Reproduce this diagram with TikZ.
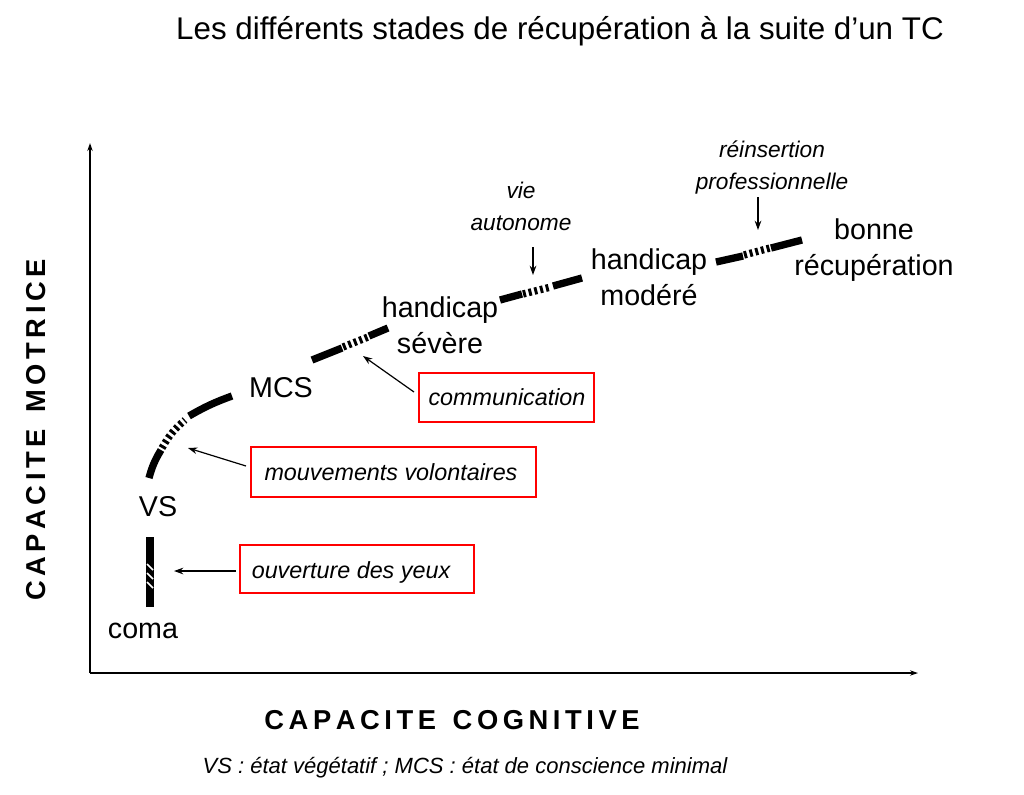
\documentclass[tikz,border=0pt]{standalone}
\usepackage{fontspec}
\setmainfont{Liberation Sans}
\usetikzlibrary{arrows.meta}
\begin{document}
\begin{tikzpicture}[x=0.75pt,y=-0.75pt,
  lbl/.style={font=\fontsize{21.5}{27}\selectfont,align=center,inner sep=0pt},
  sm/.style={font=\fontsize{17}{24}\selectfont\itshape,align=center,inner sep=0pt},
  btxt/.style={font=\fontsize{17.5}{20}\selectfont\itshape,inner sep=0pt},
  solid seg/.style={line width=5.5pt},
  tick seg/.style={line width=5.5pt,dash pattern=on 2.2pt off 2.2pt},
  ax/.style={line width=1pt,-{Stealth[length=6pt,width=4pt]}},
  arr/.style={line width=0.9pt,-{Stealth[length=7pt,width=5pt]}}]
\useasboundingbox (0,0) rectangle (1024,794);
\node[font=\fontsize{23.5}{26}\selectfont,inner sep=0pt] (title) at (560,31) {Les différents stades de récupération à la suite d’un TC};
% axes
\coordinate (o) at (90,673);
\coordinate (ytop) at (90,143);
\coordinate (xend) at (918,673);
\draw[ax] (o) -- (ytop);
\draw[ax] (o) -- (xend);
\node[rotate=90,font=\fontsize{20.5}{22}\selectfont\bfseries,inner sep=0pt] (ylab) at (36,430) {C\,A\,P\,A\,C\,I\,T\,E\,\ \,M\,O\,T\,R\,I\,C\,E};
\node[font=\fontsize{20.5}{22}\selectfont\bfseries,inner sep=0pt] (xlab) at (452,720) {C\,A\,P\,A\,C\,I\,T\,E\,\ \,C\,O\,G\,N\,I\,T\,I\,V\,E};
\node[font=\fontsize{16.5}{18}\selectfont\itshape,inner sep=0pt] (foot) at (465,768) {VS : état végétatif ; MCS : état de conscience minimal};
% stage labels
\node[lbl] (coma) at (143,631) {coma};
\node[lbl] (vs) at (158,507) {VS};
\node[lbl] (mcs) at (281,388) {MCS};
\node[lbl] (hs) at (440,325) {handicap\\sévère};
\node[lbl] (hm) at (649,277) {handicap\\modéré};
\node[lbl] (br) at (874,250) {bonne\\récupération};
% path segments
\draw[solid seg] (150,607) -- (150,537);
\foreach \yy in {566,575,584}{\draw[white,line width=1.2pt] (147,\yy-2) -- (153,\yy+4);}
\draw[solid seg] (149,478) to[bend left=8] (161,450);
\draw[tick seg] (162,448) to[bend left=10] (185,420);
\draw[solid seg] (189,416) to[bend left=5] (232,396);
\draw[solid seg] (312,360) -- (342,348);
\draw[tick seg] (343,347) -- (368,337);
\draw[solid seg] (369,336) -- (388,328);
\draw[solid seg] (500,300) -- (522,294);
\draw[tick seg] (523,294) -- (551,287);
\draw[solid seg] (553,286) -- (582,278);
\draw[solid seg] (716,262) -- (743,256);
\draw[tick seg] (744,255) -- (770,248);
\draw[solid seg] (771,248) -- (802,240);
% boxes
\draw[red,line width=1pt] (419,373) rectangle (594,422);
\node[btxt] (com) at (507,397) {communication};
\draw[red,line width=2.2pt] (251,447) rectangle (536,497);
\node[btxt] (mv) at (391,472) {mouvements volontaires};
\draw[red,line width=1pt] (240,545) rectangle (474,593);
\node[btxt] (ov) at (351,572) {ouverture des yeux};
\coordinate (c1) at (414,392); \coordinate (c1e) at (363,356);
\coordinate (m1) at (246,466); \coordinate (m1e) at (188,448);
\coordinate (o1) at (236,571); \coordinate (o1e) at (174,571);
\draw[arr] (c1) -- (c1e);
\draw[arr] (m1) -- (m1e);
\draw[arr] (o1) -- (o1e);
% top annotations
\node[sm] (va) at (521,206) {vie\\autonome};
\node[sm] (rp) at (772,167) {réinsertion\\professionnelle};
\coordinate (va1) at (533,247); \coordinate (va2) at (533,275);
\coordinate (rp1) at (758,197); \coordinate (rp2) at (758,230);
\draw[arr] (va1) -- (va2);
\draw[arr] (rp1) -- (rp2);
\end{tikzpicture}
\end{document}
